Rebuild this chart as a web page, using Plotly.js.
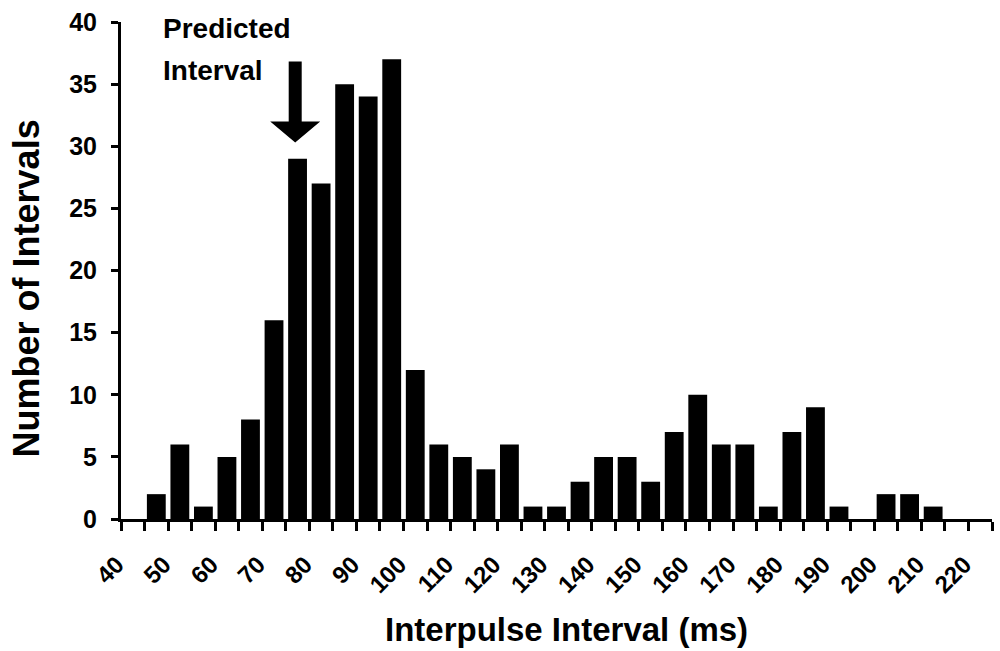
<!DOCTYPE html>
<html>
<head>
<meta charset="utf-8">
<script src="https://cdn.plot.ly/plotly-3.0.1.min.js"></script>
<style>html,body{margin:0;padding:0;background:#fff;}#chart{width:1000px;height:651px;}</style>
</head>
<body>
<div id="chart"></div>
<script>
// Bin centres (ms), 5 ms bins
const binCenters = [47.5, 52.5, 57.5, 62.5, 67.5, 72.5, 77.5, 82.5, 87.5, 92.5, 97.5,
  102.5, 107.5, 112.5, 117.5, 122.5, 127.5, 132.5, 137.5, 142.5, 147.5, 152.5,
  157.5, 162.5, 167.5, 172.5, 177.5, 182.5, 187.5, 192.5, 197.5, 202.5, 207.5,
  212.5, 217.5, 222.5];
// Number of intervals per bin
const counts = [2, 6, 1, 5, 8, 16, 29, 27, 35, 34, 37,
  12, 6, 5, 4, 6, 1, 1, 3, 5, 5, 3,
  7, 10, 6, 6, 1, 7, 9, 1, 0, 2, 2,
  1, 0, 0];
const xTickVals = [40, 50, 60, 70, 80, 90, 100, 110, 120, 130, 140, 150, 160, 170, 180, 190, 200, 210, 220];
const xTickText = ['40', '50', '60', '70', '80', '90', '100', '110', '120', '130', '140', '150', '160', '170', '180', '190', '200', '210', '220'];
const yTickVals = [0, 5, 10, 15, 20, 25, 30, 35, 40];
const xTitle = 'Interpulse Interval (ms)';
const yTitle = 'Number of Intervals';
const predictedLabel = ['Predicted', 'Interval'];
const predictedInterval = 77;
const predictedArrowTip = 30.3;

const FONT = 'Liberation Sans, Arial, Helvetica, sans-serif';

const trace = {
  type: 'bar',
  x: binCenters,
  y: counts,
  marker: { color: '#000000', line: { width: 0 } },
  hoverinfo: 'x+y'
};

const layout = {
  width: 1000,
  height: 651,
  margin: { l: 121, r: 8, t: 22, b: 132, pad: 0 },
  paper_bgcolor: '#ffffff',
  plot_bgcolor: '#ffffff',
  showlegend: false,
  bargap: 0.2,
  font: { family: FONT, color: '#000', weight: 'bold' },
  xaxis: {
    range: [40, 225],
    tickmode: 'array',
    tickvals: xTickVals,
    ticktext: xTickText,
    tickangle: -45,
    ticks: 'outside',
    ticklen: 9,
    tickwidth: 3,
    tickcolor: '#000',
    showline: true,
    linewidth: 3,
    linecolor: '#000',
    showgrid: false,
    zeroline: false,
    fixedrange: true,
    tickfont: { family: FONT, size: 24, color: '#000', weight: 'bold' },
    ticklabelstandoff: 10,
    ticklabelshift: -4,
    minor: { dtick: 5, tick0: 40, ticks: 'outside', ticklen: 9, tickwidth: 3, tickcolor: '#000', showgrid: false }
  },
  yaxis: {
    range: [0, 40],
    tickmode: 'array',
    tickvals: yTickVals,
    ticks: 'outside',
    ticklen: 7,
    tickwidth: 3,
    tickcolor: '#000',
    showline: true,
    linewidth: 3,
    linecolor: '#000',
    showgrid: false,
    zeroline: false,
    fixedrange: true,
    tickfont: { family: FONT, size: 25, color: '#000', weight: 'bold' },
    ticklabelstandoff: 9
  },
  shapes: [{
    type: 'path',
    xref: 'x', yref: 'y',
    xsizemode: 'pixel', ysizemode: 'pixel',
    xanchor: predictedInterval, yanchor: predictedArrowTip,
    path: 'M 0 0 L -25 21 L -6.5 21 L -6.5 81 L 6.5 81 L 6.5 21 L 25 21 Z',
    fillcolor: '#000', line: { width: 0 }
  }],
  annotations: [
    { xref: 'x', yref: 'y', x: 48.6, y: 39.5, xanchor: 'left', yanchor: 'middle', text: predictedLabel[0], showarrow: false,
      font: { family: FONT, size: 28, color: '#000', weight: 'bold' } },
    { xref: 'x', yref: 'y', x: 48.6, y: 36.1, xanchor: 'left', yanchor: 'middle', text: predictedLabel[1], showarrow: false,
      font: { family: FONT, size: 28, color: '#000', weight: 'bold' } },
    { xref: 'paper', yref: 'paper', x: 0.511, y: -0.222, xanchor: 'center', yanchor: 'middle', text: xTitle, showarrow: false,
      font: { family: FONT, size: 33, color: '#000', weight: 'bold' } },
    { xref: 'paper', yref: 'paper', x: -0.108, y: 0.4638, xanchor: 'center', yanchor: 'middle', text: yTitle, textangle: -90, showarrow: false,
      font: { family: FONT, size: 36, color: '#000', weight: 'bold' } }
  ]
};

Plotly.newPlot('chart', [trace], layout, { displayModeBar: false, staticPlot: true });
</script>
</body>
</html>
